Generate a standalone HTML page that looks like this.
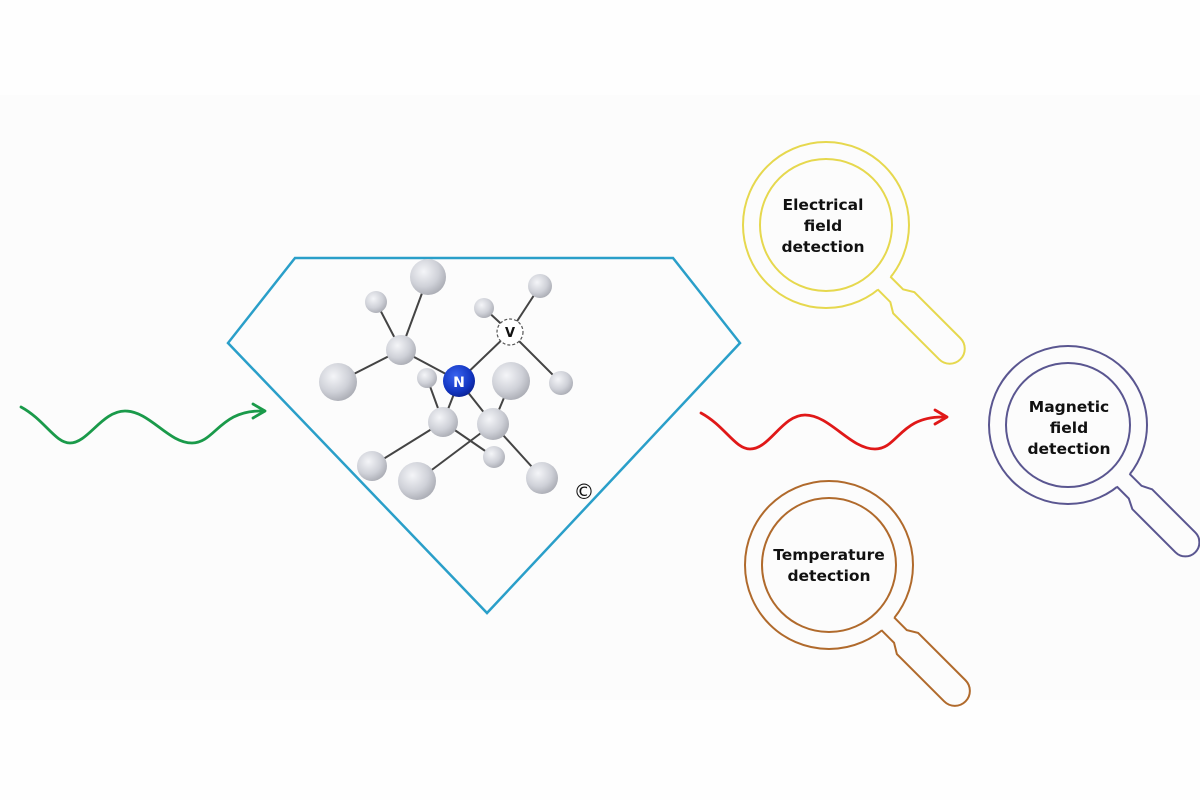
<!DOCTYPE html>
<html><head><meta charset="utf-8"><style>
html,body{margin:0;padding:0;background:#fff;}
svg{display:block;}
text{font-family:"DejaVu Sans","Liberation Sans",sans-serif;font-weight:bold;fill:#111;}
</style></head><body>
<svg width="1200" height="800" viewBox="0 0 1200 800" xmlns="http://www.w3.org/2000/svg">
<defs>
<radialGradient id="g" cx="0.38" cy="0.35" r="0.7">
<stop offset="0" stop-color="#f4f5f8"/><stop offset="0.6" stop-color="#cfd1d8"/><stop offset="1" stop-color="#a9abb3"/>
</radialGradient>
<radialGradient id="b" cx="0.4" cy="0.35" r="0.7">
<stop offset="0" stop-color="#3a64f0"/><stop offset="0.7" stop-color="#1235c0"/><stop offset="1" stop-color="#0a2090"/>
</radialGradient>
</defs>
<rect x="0" y="0" width="1200" height="800" fill="#fefefe"/>
<rect x="0" y="95" width="1200" height="605" fill="#fcfcfc"/>

<polygon points="295,258 673,258 740,343 487,613 228,343" fill="none" stroke="#2a9fc9" stroke-width="2.5"/>

<path d="M21,407 C45,420 55,443 70,443 C88,443 102,411 125,411 C150,411 168,443 192,443 C215,443 220,410 262,411" fill="none" stroke="#1a9a4a" stroke-width="2.8" stroke-linecap="round"/>
<path d="M253,404 L265,411 L253,418" fill="none" stroke="#1a9a4a" stroke-width="2.8" stroke-linecap="round" stroke-linejoin="round"/>

<path d="M701,413 C725,426 735,449 750,449 C770,449 782,415 805,415 C830,415 850,449 875,449 C898,449 900,416 944,417" fill="none" stroke="#e01818" stroke-width="2.8" stroke-linecap="round"/>
<path d="M935,410 L947,417 L935,424" fill="none" stroke="#e01818" stroke-width="2.8" stroke-linecap="round" stroke-linejoin="round"/>

<g stroke="#444" stroke-width="2">
<line x1="428" y1="277" x2="401" y2="350"/>
<line x1="376" y1="302" x2="401" y2="350"/>
<line x1="338" y1="382" x2="401" y2="350"/>
<line x1="401" y1="350" x2="459" y2="381"/>
<line x1="459" y1="381" x2="510" y2="332"/>
<line x1="484" y1="308" x2="510" y2="332"/>
<line x1="540" y1="286" x2="510" y2="332"/>
<line x1="510" y1="332" x2="561" y2="383"/>
<line x1="459" y1="381" x2="443" y2="422"/>
<line x1="459" y1="381" x2="493" y2="424"/>
<line x1="427" y1="378" x2="443" y2="422"/>
<line x1="443" y1="422" x2="372" y2="466"/>
<line x1="443" y1="422" x2="494" y2="457"/>
<line x1="493" y1="424" x2="542" y2="478"/>
<line x1="493" y1="424" x2="417" y2="481"/>
<line x1="493" y1="424" x2="511" y2="381"/>
</g>
<g fill="url(#g)">
<circle cx="428" cy="277" r="18"/>
<circle cx="376" cy="302" r="11"/>
<circle cx="401" cy="350" r="15"/>
<circle cx="338" cy="382" r="19"/>
<circle cx="427" cy="378" r="10"/>
<circle cx="484" cy="308" r="10"/>
<circle cx="540" cy="286" r="12"/>
<circle cx="561" cy="383" r="12"/>
<circle cx="511" cy="381" r="19"/>
<circle cx="443" cy="422" r="15"/>
<circle cx="494" cy="457" r="11"/>
<circle cx="493" cy="424" r="16"/>
<circle cx="372" cy="466" r="15"/>
<circle cx="417" cy="481" r="19"/>
<circle cx="542" cy="478" r="16"/>
</g>
<circle cx="459" cy="381" r="16" fill="url(#b)"/>
<text x="459" y="387" text-anchor="middle" font-size="14" style="fill:#fff">N</text>
<circle cx="510" cy="332" r="13" fill="#fff" stroke="#555" stroke-width="1.2" stroke-dasharray="3,2"/>
<text x="510" y="337" text-anchor="middle" font-size="13">V</text>
<text x="584" y="499" text-anchor="middle" font-size="21" style="font-weight:normal">©</text>

<!-- magnifiers -->
<g transform="translate(826,225) rotate(45)" stroke="#e6d84e" stroke-width="2" fill="none">
<circle r="83"/><circle r="66"/>
<path d="M78,-9 L100,-9 L110,-15 L175,-15 A15,15 0 0 1 175,15 L110,15 L100,9 L78,9 Z" fill="#fcfcfc" stroke="none"/>
<path d="M82,-9 L100,-9 L110,-15 L175,-15 A15,15 0 0 1 175,15 L110,15 L100,9 L82,9"/>
</g>
<g transform="translate(1068,425) rotate(45)" stroke="#5a5690" stroke-width="2" fill="none">
<circle r="79"/><circle r="62"/>
<path d="M74,-9 L95,-9 L105,-14 L166,-14 A14,14 0 0 1 166,14 L105,14 L95,9 L74,9 Z" fill="#fcfcfc" stroke="none"/>
<path d="M78,-9 L95,-9 L105,-14 L166,-14 A14,14 0 0 1 166,14 L105,14 L95,9 L78,9"/>
</g>
<g transform="translate(829,565) rotate(45)" stroke="#b06a2c" stroke-width="2" fill="none">
<circle r="84"/><circle r="67"/>
<path d="M79,-9 L101,-9 L111,-15 L178,-15 A15,15 0 0 1 178,15 L111,15 L101,9 L79,9 Z" fill="#fcfcfc" stroke="none"/>
<path d="M83,-9 L101,-9 L111,-15 L178,-15 A15,15 0 0 1 178,15 L111,15 L101,9 L83,9"/>
</g>

<g font-size="15.5" text-anchor="middle">
<text x="823" y="210">Electrical</text>
<text x="823" y="231">field</text>
<text x="823" y="252">detection</text>
<text x="1069" y="412">Magnetic</text>
<text x="1069" y="433">field</text>
<text x="1069" y="454">detection</text>
<text x="829" y="560">Temperature</text>
<text x="829" y="581">detection</text>
</g>
</svg>
</body></html>
